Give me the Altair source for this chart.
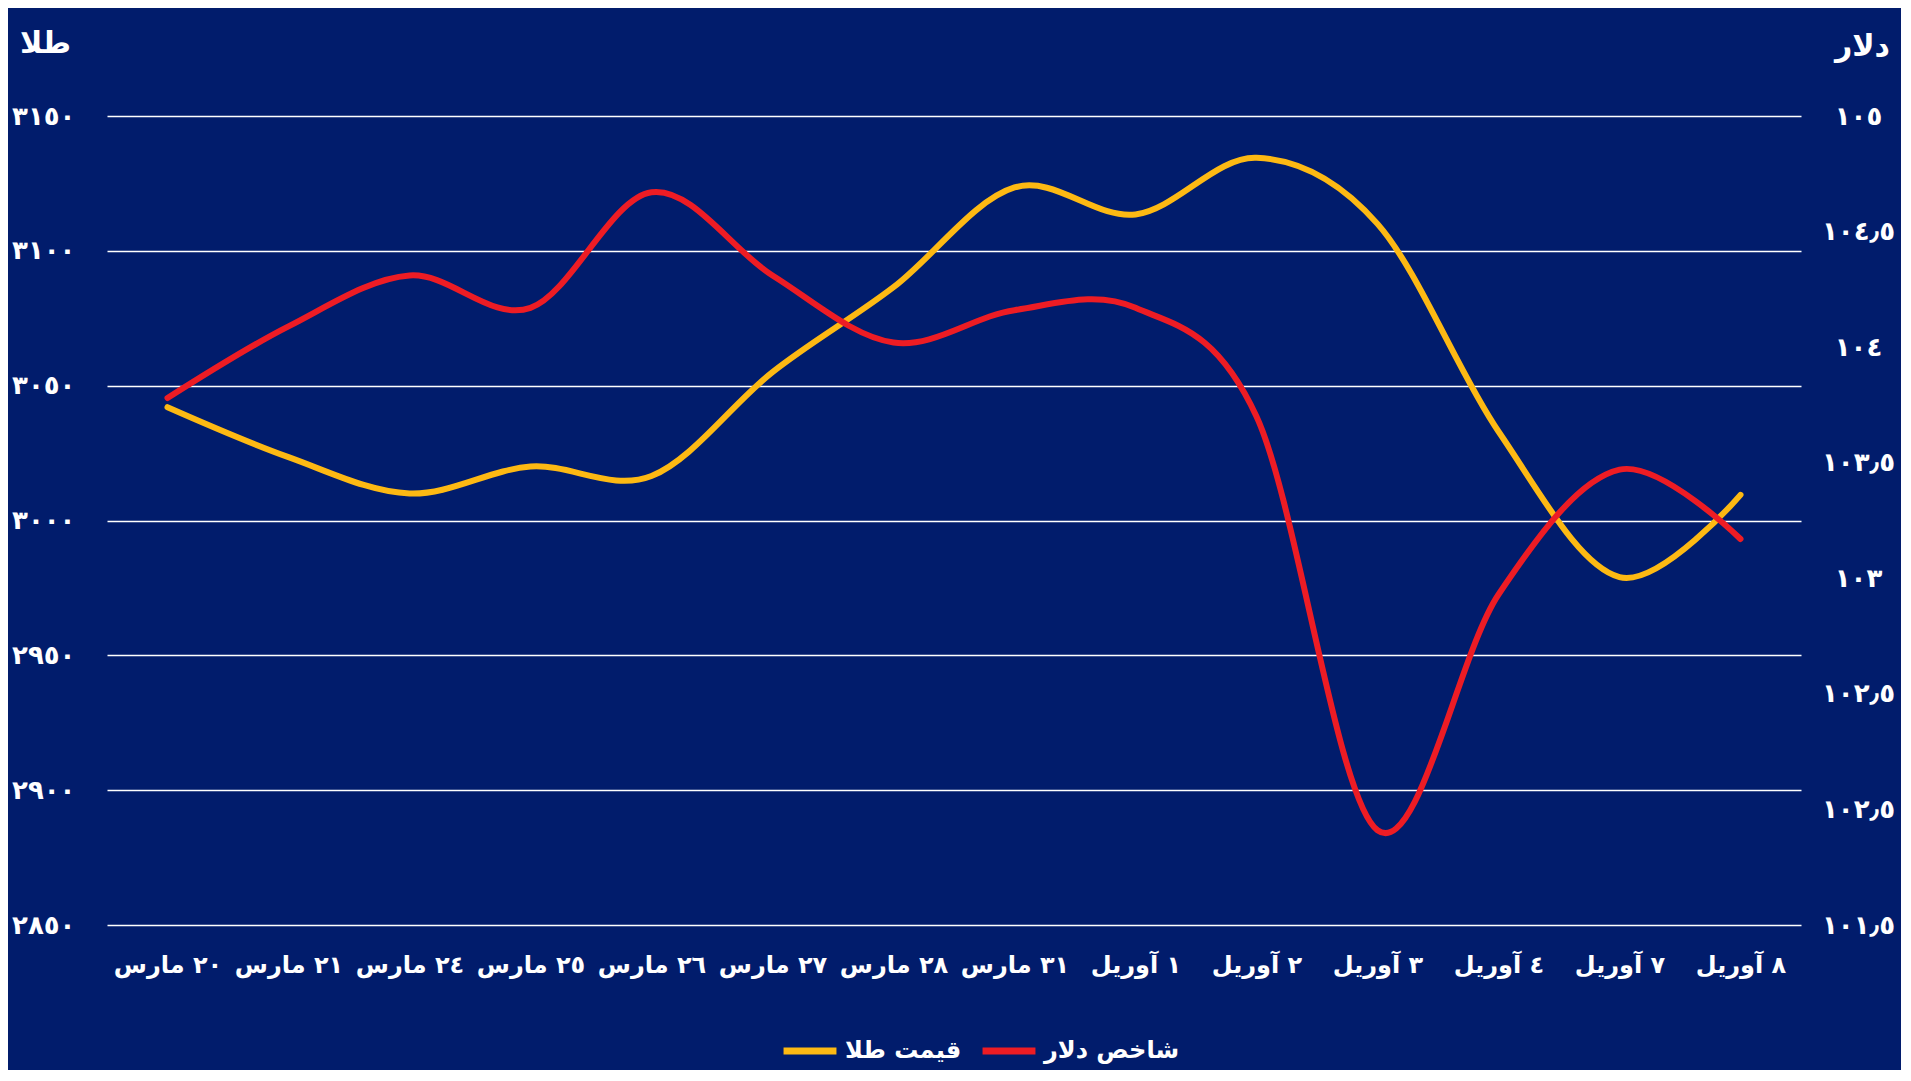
import altair as alt
import pandas as pd

# ---- data ----
dates = ["٢٠ مارس", "٢١ مارس", "٢٤ مارس", "٢٥ مارس", "٢٦ مارس", "٢٧ مارس", "٢٨ مارس",
         "٣١ مارس", "١ آوریل", "٢ آوریل", "٣ آوریل", "٤ آوریل", "٧ آوریل", "٨ آوریل"]
gold_price = [3042, 3023.5, 3010, 3020, 3016.5, 3055, 3086.5,
              3123.5, 3113.5, 3134.5, 3110, 3033, 2979, 3009.5]
dollar_index = [103.78, 104.09, 104.31, 104.17, 104.67, 104.31, 104.02,
                104.16, 104.17, 103.70, 101.91, 102.93, 103.47, 103.17]

series_names = ["قیمت طلا", "شاخص دلار"]
series_colors = ["#FDB913", "#ED1C24"]

gold_ticks = [3150, 3100, 3050, 3000, 2950, 2900, 2850]
gold_tick_labels = ["٣١٥٠", "٣١٠٠", "٣٠٥٠", "٣٠٠٠", "٢٩٥٠", "٢٩٠٠", "٢٨٥٠"]
dollar_ticks = [105, 104.5, 104, 103.5, 103, 102.5, 102, 101.5]
dollar_tick_labels = ["١٠٥", "١٠٤٫٥", "١٠٤", "١٠٣٫٥", "١٠٣", "١٠٢٫٥", "١٠٢٫٥", "١٠١٫٥"]

left_title = "طلا"
right_title = "دلار"

BG = "#011C6C"
FONT = "DejaVu Sans"


def label_expr(values, labels):
    expr = "''"
    for v, l in reversed(list(zip(values, labels))):
        expr = f"abs(datum.value - {v}) < 0.001 ? '{l}' : ({expr})"
    return expr


gold_df = pd.DataFrame({"date": dates, "series": series_names[0], "value": gold_price})
dollar_df = pd.DataFrame({"date": dates, "series": series_names[1], "value": dollar_index})

x_enc = alt.X(
    "date:N",
    sort=dates,
    scale=alt.Scale(type="point", padding=0.5),
    axis=alt.Axis(
        title=None, labelAngle=0, ticks=False, tickSize=0, domain=False,
        labelFontSize=24, labelFontWeight="bold", labelColor="white",
        labelBaseline="middle", labelPadding=40, labelFont=FONT,
    ),
)

color_enc = alt.Color(
    "series:N",
    scale=alt.Scale(domain=series_names, range=series_colors),
    legend=alt.Legend(
        title=None, orient="none", direction="horizontal",
        legendX=673, legendY=905,
        symbolType="stroke", symbolStrokeWidth=7, symbolSize=2800,
        labelFontSize=24, labelFontWeight="bold", labelColor="white", labelFont=FONT,
        labelOffset=5, columnPadding=6,
    ),
)

line_props = dict(strokeWidth=6, strokeCap="round", strokeJoin="round", interpolate="cardinal")

gold_chart = alt.Chart(gold_df).mark_line(**line_props).encode(
    x=x_enc,
    y=alt.Y(
        "value:Q",
        scale=alt.Scale(domain=[2850, 3150], nice=False, zero=False),
        axis=alt.Axis(
            orient="left", values=gold_ticks, labelExpr=label_expr(gold_ticks, gold_tick_labels),
            grid=True, gridColor="white", gridWidth=1.5, gridOpacity=1,
            ticks=False, tickSize=0, domain=False,
            labelFontSize=26, labelFontWeight="bold", labelColor="white", labelFont=FONT,
            labelAlign="right", labelBaseline="middle", labelPadding=32,
            title=left_title, titleAngle=0, titleX=-62, titleY=-73,
            titleAlign="center", titleBaseline="middle",
            titleFontSize=30, titleFontWeight="bold", titleColor="white", titleFont=FONT,
        ),
    ),
    color=color_enc,
)

dollar_chart = alt.Chart(dollar_df).mark_line(**line_props).encode(
    x=x_enc,
    y=alt.Y(
        "value:Q",
        scale=alt.Scale(domain=[101.5, 105], nice=False, zero=False),
        axis=alt.Axis(
            orient="right", values=dollar_ticks, labelExpr=label_expr(dollar_ticks, dollar_tick_labels),
            grid=False, ticks=False, tickSize=0, domain=False,
            labelFontSize=26, labelFontWeight="bold", labelColor="white", labelFont=FONT,
            labelAlign="center", labelBaseline="middle", labelPadding=57,
            title=right_title, titleAngle=0, titleX=61, titleY=-70,
            titleAlign="center", titleBaseline="middle",
            titleFontSize=30, titleFontWeight="bold", titleColor="white", titleFont=FONT,
        ),
    ),
    color=color_enc,
)

chart = (
    alt.layer(gold_chart, dollar_chart)
    .resolve_scale(y="independent")
    .properties(
        width=1694, height=809,
        background=BG,
        padding={"left": 99, "top": 108, "right": 100, "bottom": 145},
        autosize=alt.AutoSizeParams(type="none"),
    )
    .configure_view(stroke=None)
)

chart.save("out.html", embed_options={"renderer": "svg", "actions": False})
